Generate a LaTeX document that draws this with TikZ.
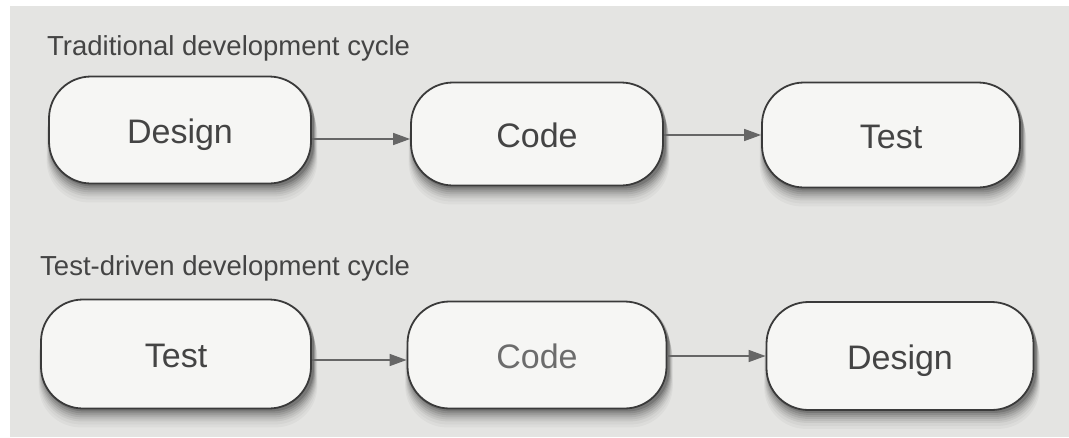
\documentclass[tikz,border=0pt]{standalone}
\usepackage{fontspec}
\setmainfont{Liberation Sans}
\usetikzlibrary{arrows.meta,calc}

\pgfdeclarelayer{paperlayer}
\pgfdeclarelayer{shadowlayer}
\pgfsetlayers{paperlayer,shadowlayer,main}

\definecolor{paper}{HTML}{E4E4E2}
\definecolor{boxfill}{HTML}{F6F6F4}
\definecolor{boxline}{HTML}{3A3A3A}
\definecolor{ink}{HTML}{444444}
\definecolor{arrowgray}{HTML}{666666}

\tikzset{
  stagebox/.style={draw=boxline, line width=1.8pt, fill=boxfill,
    rounded corners=42pt, inner sep=0pt, text=ink,
    text height=29pt, text depth=2pt,
    font=\fontsize{34}{40}\selectfont},
  title/.style={anchor=base west, inner sep=0pt, text=ink,
    font=\fontsize{27.5}{32}\selectfont},
  flow/.style={draw=arrowgray, line width=1.5pt,
    -{Triangle[length=17pt,width=12pt]}},
}

% soft drop shadow behind a named box, mostly below it
\newcommand{\boxshadow}[1]{%
  \begin{pgfonlayer}{shadowlayer}
    \foreach \dy/\sp/\op in {2/0/0.14,4/0.5/0.11,6/1/0.09,8/1.5/0.07,10/2/0.06,12/2.5/0.05,15/3/0.04,18/3.5/0.03}{
      \fill[black, opacity=\op, rounded corners=42pt]
        ($(#1.north west)+(-\sp+2,\dy)$) rectangle ($(#1.south east)+(\sp+2,\dy)$);
    }
  \end{pgfonlayer}}

\begin{document}
\begin{tikzpicture}[x=1pt,y=-1pt]
  % page
  \begin{pgfonlayer}{paperlayer}
    \fill[white] (0,0) rectangle (1069,437);
    \fill[paper] (10,6) rectangle (1069,437);
  \end{pgfonlayer}
  \useasboundingbox (0,0) rectangle (1069,437);

  % traditional cycle
  \node[title] (t1) at (47,55) {Traditional development cycle};
  \node[stagebox, minimum width=262pt, minimum height=107pt] (d1) at (180,130) {Design};
  \node[stagebox, minimum width=252pt, minimum height=103pt] (c1) at (537,134) {Code};
  \node[stagebox, minimum width=258pt, minimum height=105pt] (s1) at (891,135) {Test};

  % test-driven cycle
  \node[title] (t2) at (40,275) {Test-driven development cycle};
  \node[stagebox, minimum width=270pt, minimum height=109pt] (s2) at (176,354) {Test};
  \node[stagebox, minimum width=259pt, minimum height=107pt, text=gray!85!black] (c2) at (537,355) {Code};
  \node[stagebox, minimum width=267pt, minimum height=108pt] (d2) at (900,356) {Design};

  \boxshadow{d1}\boxshadow{c1}\boxshadow{s1}
  \boxshadow{s2}\boxshadow{c2}\boxshadow{d2}

  % arrow heights
  \coordinate (a1) at (0,139);
  \coordinate (a2) at (0,135);
  \coordinate (a3) at (0,360);
  \coordinate (a4) at (0,356);

  \draw[flow] (d1.east |- a1) -- (c1.west |- a1);
  \draw[flow] (c1.east |- a2) -- (s1.west |- a2);
  \draw[flow] (s2.east |- a3) -- (c2.west |- a3);
  \draw[flow] (c2.east |- a4) -- (d2.west |- a4);
\end{tikzpicture}
\end{document}
